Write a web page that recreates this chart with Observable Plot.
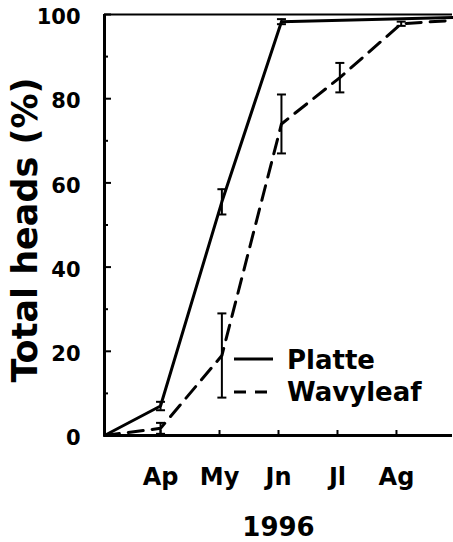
<!DOCTYPE html>
<html><head><meta charset="utf-8">
<script src="https://cdn.jsdelivr.net/npm/d3@7"></script>
<script src="https://cdn.jsdelivr.net/npm/@observablehq/plot@0.6"></script>
<style>body{margin:0;background:#fff} svg{display:block}</style>
</head><body><div id="chart"></div>
<script>
const months = ["Ap", "My", "Jn", "Jl", "Ag"];
const monthTicks = [1, 2, 3, 4, 5];
const yMajor = [0, 20, 40, 60, 80, 100];
const yMinor = [10, 30, 50, 70, 90];
const platteX = [0.05, 1.0, 2.04, 3.05, 5.95];
const platteY = [0, 7, 55.5, 98.3, 99.3];
const platteErr = [0, 1, 3, 0.6, 0];
const wavyX = [0.05, 1.0, 2.04, 3.05, 4.04, 5.08, 5.95];
const wavyY = [0, 1.7, 19, 74, 85, 97.8, 98.6];
const wavyErr = [0, 1.3, 10, 7, 3.5, 0.5, 0];
const seriesNames = ["Platte", "Wavyleaf"];

const platte = platteX.map((x, i) => ({x, y: platteY[i], e: platteErr[i]}));
const wavy = wavyX.map((x, i) => ({x, y: wavyY[i], e: wavyErr[i]}));
const errs = [...platte, ...wavy].filter(d => d.e > 0);

const cap = {draw(ctx, size) { const r = Math.sqrt(size / Math.PI); ctx.moveTo(-r, 0); ctx.lineTo(r, 0); }};

const W = 453, H = 542, mL = 104, mR = 1, mT = 14, mB = 107;
const fw = W - mL - mR, fh = H - mT - mB;
const font = "DejaVu Sans, Liberation Sans, Arial, sans-serif";

const chart = Plot.plot({
  width: W, height: H,
  marginLeft: mL, marginRight: mR, marginTop: mT, marginBottom: mB,
  style: {fontFamily: font, color: "#000", background: "#fff"},
  x: {domain: [0.05, 5.95]},
  y: {domain: [0, 100]},
  marks: [
    Plot.axisY({ticks: yMajor, tickSize: 0, tickPadding: 15, dx: -9, fontSize: 21, fontWeight: "bold", dy: 3, label: null}),
    Plot.axisX({ticks: monthTicks, tickFormat: d => months[d - 1], tickSize: 0, tickPadding: 32, fontSize: 24, fontWeight: "bold", label: null}),
    Plot.tickY(yMajor, {y: d => d, insetRight: fw - 7, strokeWidth: 2}),
    Plot.tickY(yMinor, {y: d => d, insetRight: fw - 4, strokeWidth: 2}),
    Plot.tickX(monthTicks, {x: d => d, insetTop: fh - 5, strokeWidth: 2}),
    Plot.ruleY([100], {strokeWidth: 2}),
    Plot.ruleX([0.05], {strokeWidth: 3}),
    Plot.ruleY([0], {strokeWidth: 3}),
    Plot.ruleX(errs, {x: "x", y1: d => d.y - d.e, y2: d => d.y + d.e, strokeWidth: 2}),
    Plot.dot(errs, {x: "x", y: d => d.y - d.e, symbol: cap, r: 4.5, fill: "none", stroke: "#000", strokeWidth: 2}),
    Plot.dot(errs, {x: "x", y: d => d.y + d.e, symbol: cap, r: 4.5, fill: "none", stroke: "#000", strokeWidth: 2}),
    Plot.line(platte, {x: "x", y: "y", stroke: "#000", strokeWidth: 3}),
    Plot.line(wavy, {x: "x", y: "y", stroke: "#000", strokeWidth: 3, strokeDasharray: "15,9"}),
    Plot.text(["1996"], {text: d => d, frameAnchor: "bottom", dy: 100, fontSize: 26, fontWeight: "bold"}),
    Plot.text(["Total heads (%)"], {text: d => d, frameAnchor: "left", textAnchor: "middle", rotate: -90, dx: -79, dy: 5, fontSize: 35, fontWeight: "bold"})
  ]
});

const svg = d3.select(chart);
const leg = svg.append("g").attr("font-family", font).attr("font-weight", "bold").attr("font-size", 26).attr("text-anchor", "start");
const legRows = [{name: seriesNames[0], dash: null, ly: 359, ty: 369}, {name: seriesNames[1], dash: "12,9", ly: 392, ty: 401}];
legRows.forEach(r => {
  leg.append("line").attr("x1", 234).attr("x2", 273).attr("y1", r.ly).attr("y2", r.ly)
    .attr("stroke", "#000").attr("stroke-width", 3).attr("stroke-dasharray", r.dash);
  leg.append("text").attr("x", 287).attr("y", r.ty).attr("text-anchor", "start").text(r.name);
});
document.getElementById("chart").append(chart);
</script>
</body></html>
